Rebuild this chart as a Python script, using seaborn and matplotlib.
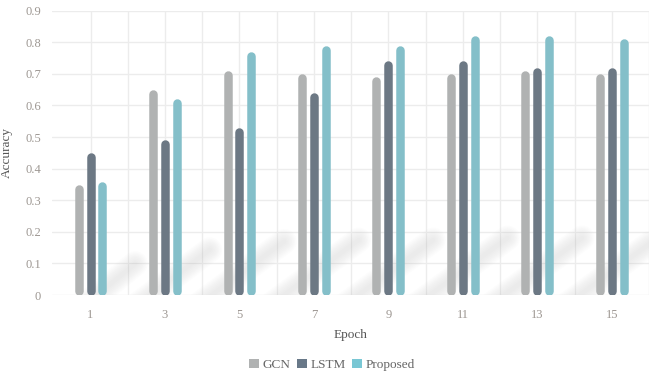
import numpy as np
import pandas as pd
import matplotlib
matplotlib.use("Agg")
import matplotlib.pyplot as plt
import seaborn as sns
from matplotlib.patches import Patch

# Accuracy per epoch for each model
epochs = ["1", "3", "5", "7", "9", "11", "13", "15"]
models = ["GCN", "LSTM", "Proposed"]
gcn = [0.35, 0.65, 0.71, 0.70, 0.69, 0.70, 0.71, 0.70]
lstm = [0.45, 0.49, 0.53, 0.64, 0.74, 0.74, 0.72, 0.72]
proposed = [0.36, 0.62, 0.77, 0.79, 0.79, 0.82, 0.82, 0.81]
y_ticks = [0, 0.1, 0.2, 0.3, 0.4, 0.5, 0.6, 0.7, 0.8, 0.9]
y_tick_labels = ["0", "0.1", "0.2", "0.3", "0.4", "0.5", "0.6", "0.7", "0.8", "0.9"]

colors = {"GCN": "#b0b2b2", "LSTM": "#687888", "Proposed": "#79c7d4"}

df = pd.DataFrame({
    "Epoch": epochs * 3,
    "Model": ["GCN"] * 8 + ["LSTM"] * 8 + ["Proposed"] * 8,
    "Accuracy": gcn + lstm + proposed,
})

sns.set_theme(style="white")
plt.rcParams["font.family"] = ["Liberation Serif", "DejaVu Serif"]

W, H, DPI = 649, 377, 100
fig = plt.figure(figsize=(W / DPI, H / DPI), dpi=DPI)
ax = fig.add_axes([52.3 / W, 1 - 295 / H, 1 - 52.3 / W, (295 - 10.7) / H])

sns.barplot(data=df, x="Epoch", y="Accuracy", hue="Model", hue_order=models,
            palette=colors, width=0.48, ax=ax, legend=False)

ax.set_xlim(-0.513, 7.40)
ax.set_ylim(0, 0.9)

# pixel scale helpers for data units
px_x = 1 / 75.4
px_y = 0.9 / (295 - 10.7)

# soft diagonal shadow behind each group
for i in range(len(epochs)):
    h = max(gcn[i], lstm[i], proposed[i])
    ty = 0.22 * h
    dy_px = ty / px_y
    x_tip = i + 0.6
    x_start = x_tip - (dy_px / 0.62) * px_x
    for lw in np.linspace(18, 3, 8):
        ax.plot([x_start, x_tip], [-0.03, ty], color="#a0a0a0", lw=lw,
                alpha=0.022, solid_capstyle="round", zorder=1)

# rounded bars: redraw each seaborn bar as a round-capped stroke
bar_px = 8.5
lw_pt = bar_px * 72 / DPI
cap = (bar_px / 2) * px_y
for p in list(ax.patches):
    x = p.get_x() + p.get_width() / 2
    h = p.get_height()
    c = p.get_facecolor()
    p.set_visible(False)
    ax.plot([x, x], [cap, h - cap], color=c, lw=lw_pt, solid_capstyle="round",
            zorder=3)

# grid at category centers and boundaries
ax.set_xticks(range(len(epochs)))
ax.set_xticklabels(epochs)
ax.set_xticks(np.arange(len(epochs)) + 0.5, minor=True)
ax.set_yticks(y_ticks)
ax.set_yticklabels(y_tick_labels)
ax.grid(True, which="both", color="#ececec", lw=1.0, zorder=0)
ax.set_axisbelow(True)
for s in ax.spines.values():
    s.set_visible(False)
ax.tick_params(axis="both", which="both", length=0, colors="#9d9792",
               labelsize=9)
ax.tick_params(axis="x", pad=10)
ax.tick_params(axis="y", pad=8)

ax.set_xlabel("Epoch", fontsize=9.5, color="#555555", labelpad=6)
ax.set_ylabel("Accuracy", fontsize=9.5, color="#555555", labelpad=9)

handles = [Patch(facecolor=colors[m], edgecolor="none", label=m) for m in models]
leg = fig.legend(handles=handles, loc="center", bbox_to_anchor=(332 / W, 1 - 365 / H),
                 ncol=3, frameon=False, fontsize=9.5, handlelength=0.75,
                 handleheight=0.75, handletextpad=0.3, columnspacing=0.45)
for t in leg.get_texts():
    t.set_color("#666666")

fig.savefig("out.png", dpi=DPI)
